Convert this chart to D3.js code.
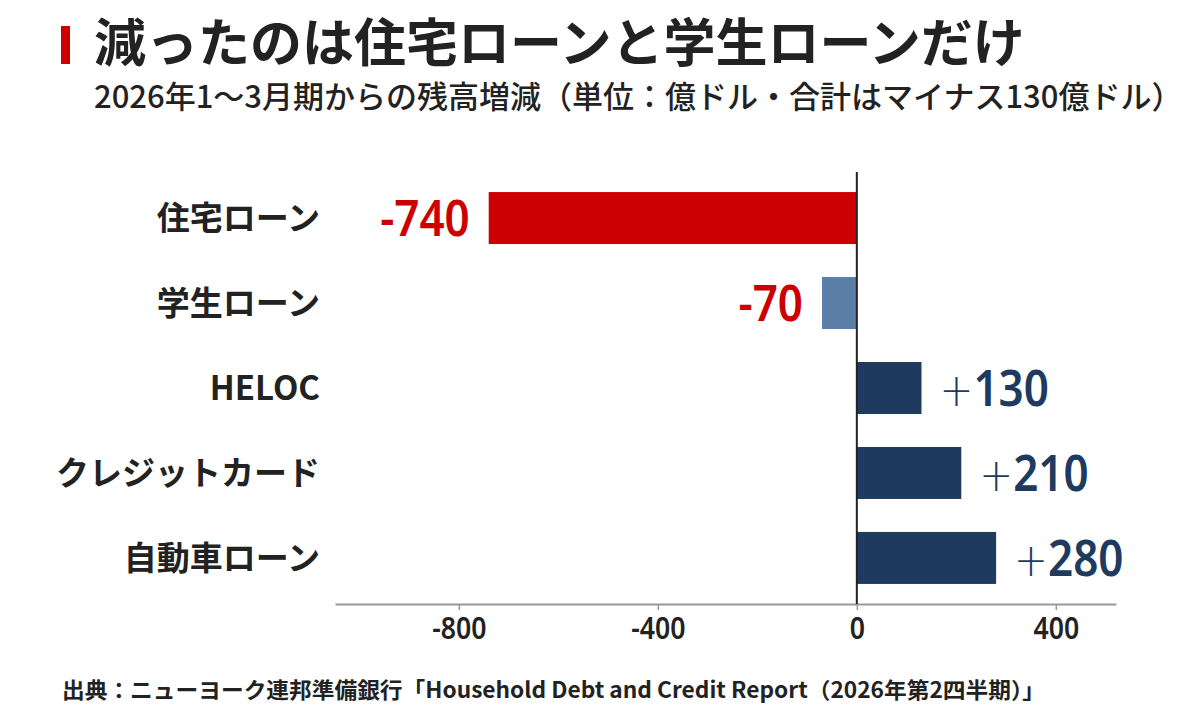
<!DOCTYPE html>
<html>
<head>
<meta charset="utf-8">
<script src="https://cdn.jsdelivr.net/npm/d3@7"></script>
<style>
  body { margin: 0; background: #fff; }
  svg { display: block; }
</style>
</head>
<body>
<svg id="drawing_region"></svg>
<script>
const categories = ['住宅ローン', '学生ローン', 'HELOC', 'クレジットカード', '自動車ローン'];
const values = [-740, -70, 130, 210, 280];
const barColors = ['#cc0000', '#5b7ea8', '#1f3a5f', '#1f3a5f', '#1f3a5f'];
const tickValues = [-800, -400, 0, 400];

const title = '減ったのは住宅ローンと学生ローンだけ';
const subtitle = '2026年1～3月期からの残高増減（単位：億ドル・合計はマイナス130億ドル）';
const source = '出典：ニューヨーク連邦準備銀行「Household Debt and Credit Report（2026年第2四半期）」';

const jp = '"Noto Sans CJK JP", "Noto Sans", sans-serif';
const num = '"Noto Sans", "Roboto", sans-serif';

const config = {
    width: 1200,
    height: 720,
    margin: {top: 172, right: 84, bottom: 116, left: 335}
};

const data = categories.map((c, i) => ({ name: c, value: values[i], color: barColors[i] }));

const svg = d3.select('#drawing_region')
    .attr('width', config.width)
    .attr('height', config.height);

const inner_width = config.width - config.margin.left - config.margin.right;
const inner_height = config.height - config.margin.top - config.margin.bottom;

const chart = svg.append('g')
    .attr('transform', `translate(${config.margin.left}, ${config.margin.top})`);

const xscale = d3.scaleLinear()
    .domain([-1049, 521])
    .range([0, inner_width]);

const yscale = d3.scaleBand()
    .domain(categories)
    .range([0, inner_height])
    .paddingInner(0.388)
    .paddingOuter(0.236);

// title block
svg.append('rect')
    .attr('x', 61).attr('y', 26)
    .attr('width', 9).attr('height', 38)
    .attr('fill', '#cc0000');

svg.append('text')
    .attr('x', 94).attr('y', 62)
    .attr('font-family', jp)
    .attr('font-weight', 700)
    .attr('font-size', 52)
    .attr('fill', '#222')
    .text(title);

svg.append('text')
    .attr('x', 94).attr('y', 108)
    .attr('font-family', jp)
    .attr('font-weight', 500)
    .attr('font-size', 31)
    .attr('fill', '#222')
    .text(subtitle);

// bars
chart.selectAll('rect.bar')
    .data(data)
    .enter()
    .append('rect')
    .attr('class', 'bar')
    .attr('x', d => xscale(Math.min(0, d.value)))
    .attr('y', d => yscale(d.name))
    .attr('width', d => Math.abs(xscale(d.value) - xscale(0)))
    .attr('height', yscale.bandwidth())
    .attr('fill', d => d.color);

// x axis
const xaxis = d3.axisBottom(xscale)
    .tickValues(tickValues)
    .tickFormat(d => String(d))
    .tickSize(6)
    .tickSizeOuter(0)
    .tickPadding(7);

const xaxis_group = chart.append('g')
    .attr('transform', `translate(0, ${inner_height})`)
    .call(xaxis);

xaxis_group.select('.domain')
    .attr('stroke', '#999')
    .attr('stroke-width', 2);
xaxis_group.selectAll('.tick line')
    .attr('stroke', '#999')
    .attr('stroke-width', 1.5);
xaxis_group.selectAll('.tick text')
    .attr('font-family', num)
    .attr('font-weight', 600)
    .attr('font-size', 31)
    .attr('fill', '#222')
    .attr('transform', 'scale(0.86,1)');

// zero line
chart.append('line')
    .attr('x1', xscale(0)).attr('x2', xscale(0))
    .attr('y1', 0).attr('y2', inner_height)
    .attr('stroke', '#222')
    .attr('stroke-width', 2);

// category labels
chart.selectAll('text.cat')
    .data(data)
    .enter()
    .append('text')
    .attr('class', 'cat')
    .attr('x', -15)
    .attr('y', d => yscale(d.name) + yscale.bandwidth() / 2)
    .attr('dy', '0.36em')
    .attr('text-anchor', 'end')
    .attr('font-family', jp)
    .attr('font-weight', 700)
    .attr('font-size', 33)
    .attr('fill', '#222')
    .text(d => d.name);

// value labels
const vlabels = chart.selectAll('text.val')
    .data(data)
    .enter()
    .append('text')
    .attr('class', 'val')
    .attr('transform', d => {
        const x = d.value < 0 ? xscale(d.value) - 19 : xscale(d.value) + 18;
        const y = yscale(d.name) + yscale.bandwidth() / 2;
        return `translate(${x}, ${y}) scale(0.88, 1)`;
    })
    .attr('dy', '0.36em')
    .attr('text-anchor', d => d.value < 0 ? 'end' : 'start')
    .attr('font-family', num)
    .attr('font-weight', 600)
    .attr('font-size', 50)
    .attr('fill', d => d.value < 0 ? '#cc0000' : '#1f3a5f');

vlabels.filter(d => d.value >= 0)
    .append('tspan')
    .attr('font-family', '"DejaVu Sans", sans-serif')
    .attr('font-weight', 300)
    .attr('font-size', 46)
    .text('+');
vlabels.append('tspan')
    .text(d => d.value < 0 ? '-' + Math.abs(d.value) : Math.abs(d.value));

// source
svg.append('text')
    .attr('x', 62).attr('y', 698)
    .attr('font-family', jp)
    .attr('font-weight', 700)
    .attr('font-size', 22)
    .attr('fill', '#222')
    .attr('textLength', 983)
    .attr('lengthAdjust', 'spacingAndGlyphs')
    .text(source);
</script>
</body>
</html>
